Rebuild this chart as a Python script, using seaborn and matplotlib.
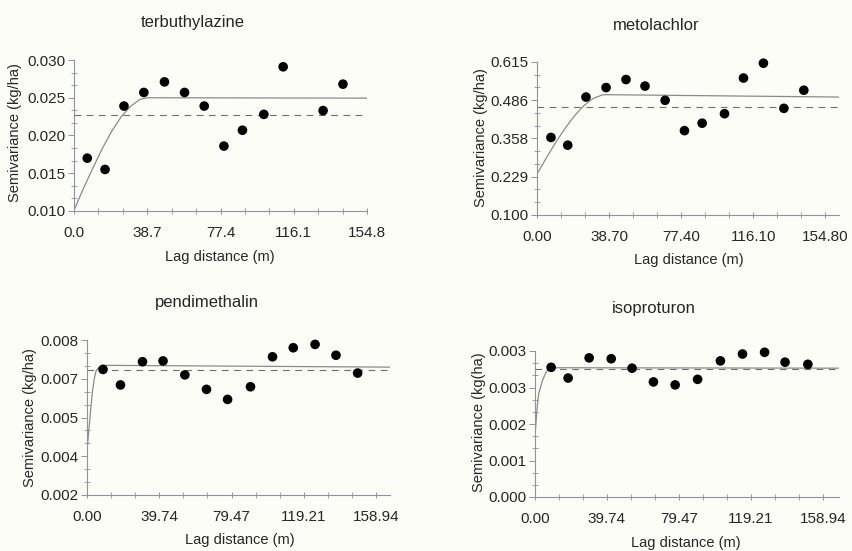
import numpy as np
import pandas as pd
import matplotlib
matplotlib.use("Agg")
import matplotlib.pyplot as plt
from matplotlib.ticker import AutoMinorLocator
import seaborn as sns

sns.set_style("ticks")
plt.rcParams["font.family"] = ["Liberation Sans", "DejaVu Sans"]

# ---- terbuthylazine ----
terb_lag = [7.0, 16.4, 26.4, 36.9, 47.8, 58.4, 68.8, 79.2, 89.0, 100.3, 110.5, 131.6, 142.1]
terb_gamma = [0.0170, 0.0155, 0.0239, 0.0257, 0.0271, 0.0257, 0.0239, 0.0186, 0.0207,
              0.0228, 0.0291, 0.0233, 0.0268]
terb_model_lag = [0, 5, 10, 15, 20, 25, 30, 35, 39, 154.8]
terb_model = [0.0101, 0.0130, 0.0157, 0.0183, 0.0206, 0.0225, 0.0239, 0.0248, 0.0250, 0.02495]
terb_var = 0.0227

# ---- metolachlor ----
meto_lag = [7.5, 16.5, 26.3, 37.1, 47.8, 58.0, 68.8, 79.2, 88.7, 100.7, 110.9, 121.6, 132.6, 143.3]
meto_gamma = [0.361, 0.335, 0.497, 0.529, 0.556, 0.534, 0.486, 0.384, 0.409, 0.441,
              0.561, 0.611, 0.459, 0.520]
meto_model_lag = [0, 5, 10, 15, 20, 25, 30, 35, 37, 162.2]
meto_model = [0.238, 0.292, 0.344, 0.391, 0.433, 0.467, 0.492, 0.504, 0.505, 0.497]
meto_var = 0.463

# ---- pendimethalin ----
pend_lag = [8.8, 18.4, 30.5, 41.8, 53.8, 65.7, 77.3, 89.9, 102.0, 113.4, 125.4, 136.9, 148.8]
pend_gamma = [0.00686, 0.00626, 0.00716, 0.00719, 0.00665, 0.00609, 0.00570, 0.00619,
              0.00735, 0.00770, 0.00783, 0.00741, 0.00672]
pend_model_lag = [0, 1, 2, 3, 4, 5, 6, 8, 166.6]
pend_model = [0.0037, 0.0045, 0.0053, 0.0060, 0.0065, 0.0068, 0.0069, 0.00702, 0.00695]
pend_var = 0.00684

# ---- isoproturon ----
iso_lag = [8.9, 18.3, 29.9, 42.1, 53.6, 65.4, 77.4, 89.8, 102.4, 114.6, 126.8, 138.1, 150.7]
iso_gamma = [0.00302, 0.00277, 0.00324, 0.00322, 0.00300, 0.00268, 0.00261, 0.00274,
             0.00317, 0.00333, 0.00337, 0.00314, 0.00309]
iso_model_lag = [0, 1, 2, 4, 6, 8, 10, 167.9]
iso_model = [0.0014, 0.0020, 0.0024, 0.0027, 0.0029, 0.0030, 0.00301, 0.00300]
iso_var = 0.00298

panels = [
    dict(name="terbuthylazine", lag=terb_lag, gamma=terb_gamma, mlag=terb_model_lag, model=terb_model,
         var=terb_var, xlim=(0, 154.8), xticks=[0, 38.7, 77.4, 116.1, 154.8],
         xlabels=["0.0", "38.7", "77.4", "116.1", "154.8"],
         ylim=(0.010, 0.030), yticks=[0.010, 0.015, 0.020, 0.025, 0.030],
         ylabels=["0.010", "0.015", "0.020", "0.025", "0.030"],
         ylab="Semivariance (kg/ha)",
         rect=[74, 60, 367, 211], title=(193, 22), xl=(220, 257), yl=(15, 133)),
    dict(name="metolachlor", lag=meto_lag, gamma=meto_gamma, mlag=meto_model_lag, model=meto_model,
         var=meto_var, xlim=(0, 162.2), xticks=[0, 38.7, 77.4, 116.1, 154.8],
         xlabels=["0.00", "38.70", "77.40", "116.10", "154.80"],
         ylim=(0.100, 0.615), yticks=[0.100, 0.22875, 0.3575, 0.48625, 0.615],
         ylabels=["0.100", "0.229", "0.358", "0.486", "0.615"],
         ylab="Semivariance (kg/ha)",
         rect=[537, 62, 839, 215], title=(656, 25), xl=(689, 260), yl=(481, 138)),
    dict(name="pendimethalin", lag=pend_lag, gamma=pend_gamma, mlag=pend_model_lag, model=pend_model,
         var=pend_var, xlim=(0, 166.6), xticks=[0, 39.735, 79.47, 119.205, 158.94],
         xlabels=["0.00", "39.74", "79.47", "119.21", "158.94"],
         ylim=(0.002, 0.008), yticks=[0.002, 0.0035, 0.005, 0.0065, 0.008],
         ylabels=["0.002", "0.004", "0.005", "0.007", "0.008"],
         ylab="Semivariance (kg/ha)",
         rect=[87, 340, 390, 495], title=(207, 303), xl=(240, 540), yl=(30, 418)),
    dict(name="isoproturon", lag=iso_lag, gamma=iso_gamma, mlag=iso_model_lag, model=iso_model,
         var=iso_var, xlim=(0, 167.9), xticks=[0, 39.735, 79.47, 119.205, 158.94],
         xlabels=["0.00", "39.74", "79.47", "119.21", "158.94"],
         ylim=(0.0, 0.0034), yticks=[0.0, 0.00085, 0.0017, 0.00255, 0.0034],
         ylabels=["0.000", "0.001", "0.002", "0.003", "0.003"],
         ylab="Semivariance (kg(ha)",
         rect=[535, 351, 839, 497], title=(654, 308), xl=(686, 543), yl=(479, 422)),
]

W, H = 852, 551
fig = plt.figure(figsize=(W / 100, H / 100), dpi=100, facecolor="#fdfdf8")
txt = "#262626"
axcol = "#8c93a0"

for p in panels:
    l, t, r, b = p["rect"]
    ax = fig.add_axes([l / W, 1 - b / H, (r - l) / W, (b - t) / H])
    ax.set_facecolor("#fdfdf8")

    sns.lineplot(x=p["mlag"], y=p["model"], ax=ax, color="#8a8a8a", lw=0.9,
                 estimator=None, sort=False)
    ax.axhline(p["var"], color="#6e6e6e", lw=0.8, ls=(0, (6, 5)))
    sns.scatterplot(x=p["lag"], y=p["gamma"], ax=ax, color="black", s=48,
                    edgecolor="none", zorder=5, clip_on=False)

    ax.set_xlim(*p["xlim"])
    ax.set_ylim(*p["ylim"])
    ax.set_xticks(p["xticks"])
    ax.set_xticklabels(p["xlabels"])
    ax.set_yticks(p["yticks"])
    ax.set_yticklabels(p["ylabels"])
    ax.xaxis.set_minor_locator(AutoMinorLocator(3))
    ax.yaxis.set_minor_locator(AutoMinorLocator(3))
    ax.tick_params(axis="x", which="major", direction="inout", length=5, width=0.7,
                   color=axcol, labelsize=11, labelcolor=txt, pad=8)
    ax.tick_params(axis="x", which="minor", direction="inout", length=4, width=0.6, color=axcol)
    ax.tick_params(axis="y", which="major", direction="out", length=4, width=0.7,
                   color=axcol, labelsize=11, labelcolor=txt, pad=2)
    ax.tick_params(axis="y", which="minor", direction="inout", length=4, width=0.6, color=axcol)
    for s in ["top", "right"]:
        ax.spines[s].set_visible(False)
    for s in ["left", "bottom"]:
        ax.spines[s].set_color(axcol)
        ax.spines[s].set_linewidth(0.8)
    ax.set_xlabel("")
    ax.set_ylabel("")

    fig.text(p["title"][0] / W, 1 - p["title"][1] / H, p["name"], ha="center", va="center",
             fontsize=12, color=txt)
    fig.text(p["xl"][0] / W, 1 - p["xl"][1] / H, "Lag distance (m)", ha="center", va="center",
             fontsize=10.5, color=txt)
    fig.text(p["yl"][0] / W, 1 - p["yl"][1] / H, p["ylab"], ha="center", va="center",
             rotation=90, fontsize=10.5, color=txt)

fig.savefig("out.png", dpi=100, facecolor=fig.get_facecolor())
